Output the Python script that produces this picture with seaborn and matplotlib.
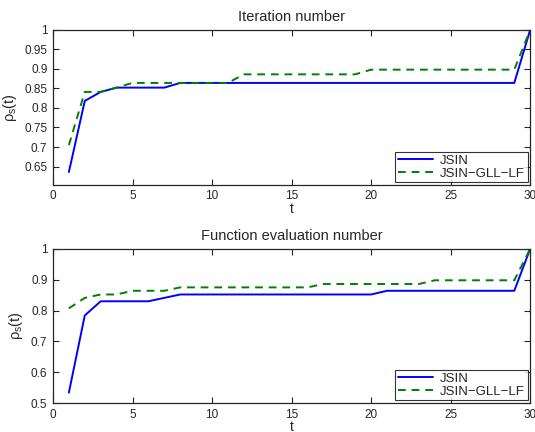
import pandas as pd
import matplotlib
matplotlib.use('Agg')
import matplotlib.pyplot as plt
import seaborn as sns

sns.set_style('ticks')
plt.rcParams['font.family'] = ['Liberation Sans', 'DejaVu Sans']
plt.rcParams['mathtext.fontset'] = 'custom'
plt.rcParams['mathtext.rm'] = 'Liberation Sans'
plt.rcParams['mathtext.it'] = 'Liberation Sans:italic'

t = list(range(1, 31))

## iteration number profile
iter_jsin = [0.636, 0.818, 0.841, 0.852, 0.852, 0.852, 0.852] + [0.864] * 22 + [1.0]
iter_gll = [0.705, 0.841, 0.841, 0.852] + [0.864] * 7 + [0.886] * 8 + [0.898] * 10 + [1.0]

## function evaluation profile
feval_jsin = [0.534, 0.784] + [0.830] * 4 + [0.841] + [0.852] * 13 + [0.864] * 9 + [1.0]
feval_gll = [0.807, 0.841, 0.852, 0.852] + [0.864] * 3 + [0.875] * 9 + [0.886] * 7 + [0.898] * 6 + [1.0]

labels = ['JSIN', 'JSIN\u2212GLL\u2212LF']
palette = {labels[0]: (0, 0, 1), labels[1]: (0, 0.5, 0)}
dashes = {labels[0]: '', labels[1]: (4, 3)}


def make_df(a, b):
    return pd.DataFrame({'t': t * 2, 'rho': a + b,
                         'solver': [labels[0]] * len(a) + [labels[1]] * len(b)})


fig = plt.figure(figsize=(5.35, 4.32), dpi=100)
ax1 = fig.add_axes([0.099, 0.572, 0.892, 0.359])
ax2 = fig.add_axes([0.099, 0.067, 0.892, 0.357])

panels = [(ax1, make_df(iter_jsin, iter_gll), 'Iteration number',
           (0.603, 1.0), [0.65, 0.7, 0.75, 0.8, 0.85, 0.9, 0.95, 1]),
          (ax2, make_df(feval_jsin, feval_gll), 'Function evaluation number',
           (0.5, 1.0), [0.5, 0.6, 0.7, 0.8, 0.9, 1])]

for ax, df, title, ylim, yticks in panels:
    sns.lineplot(data=df, x='t', y='rho', hue='solver', style='solver',
                 palette=palette, dashes=dashes, linewidth=1.4, ax=ax)
    ax.set_xlim(0, 30)
    ax.set_ylim(*ylim)
    ax.set_xticks([0, 5, 10, 15, 20, 25, 30])
    ax.set_yticks(yticks)
    ax.set_yticklabels([('%g' % v) for v in yticks])
    ax.tick_params(direction='in', top=True, right=True, labelsize=8.5,
                   length=4, width=0.8, pad=4)
    for s in ax.spines.values():
        s.set_visible(True)
        s.set_linewidth(0.9)
    ax.set_title(title, fontsize=10.5, pad=6)
    ax.set_xlabel('t', fontsize=10, labelpad=-0.3)
    ax.set_ylabel(r'$\mathrm{\rho_s}$(t)', fontsize=10.5, labelpad=4)
    leg = ax.legend(loc='lower right', fontsize=9.5, frameon=True, fancybox=False,
                    borderaxespad=0.2, handlelength=2.7, handletextpad=0.5,
                    borderpad=0.2, labelspacing=0.05)
    leg.get_frame().set_edgecolor('black')
    leg.get_frame().set_linewidth(0.8)

fig.savefig('out.png', dpi=100)
